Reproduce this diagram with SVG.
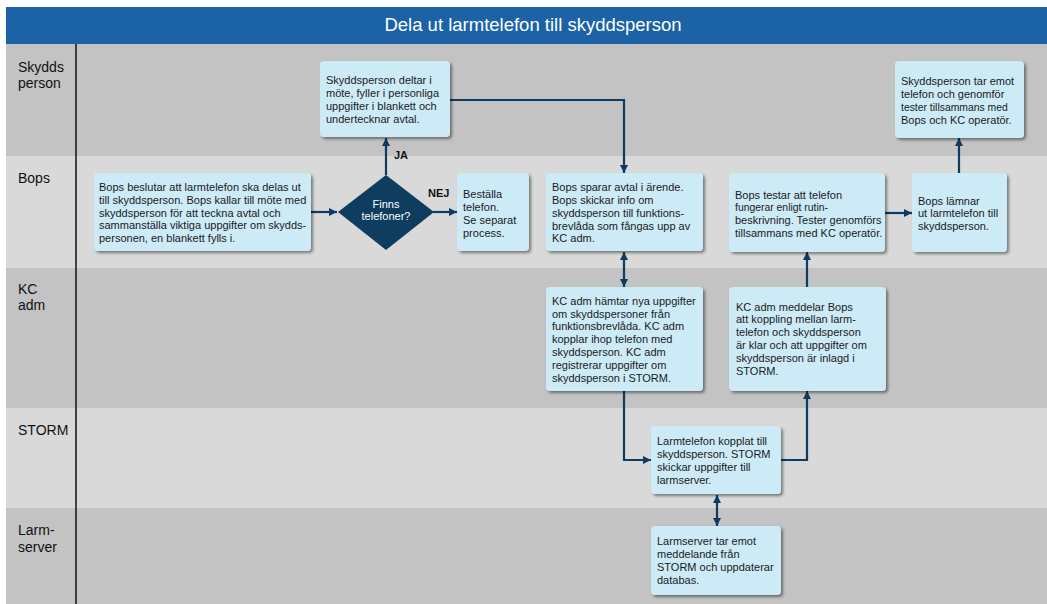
<svg xmlns="http://www.w3.org/2000/svg" width="1047" height="604" viewBox="0 0 1047 604">
<defs>
<style>
.lane-dark{fill:#c3c3c3}
.lane-light{fill:#d9d9d9}
.lbl{font-family:"Liberation Sans",Arial,sans-serif;font-size:14px;fill:#111}
.box{fill:#cdeaf7;filter:url(#sh)}
.t{font-family:"Liberation Sans",Arial,sans-serif;font-size:11px;fill:#1a1a1a}
.ts{font-size:10.4px}
.dia{fill:#0f3d5f}
.dt{font-family:"Liberation Sans",Arial,sans-serif;font-size:11px;fill:#fff;text-anchor:middle}
.ck{font-family:"Liberation Sans",Arial,sans-serif;font-size:11px;font-weight:bold;fill:#111}
.c{fill:none;stroke:#0d3b61;stroke-width:2.2}
</style>
<filter id="sh" x="-10%" y="-10%" width="130%" height="130%">
<feDropShadow dx="2" dy="2" stdDeviation="1.5" flood-color="#000" flood-opacity="0.45"/>
</filter>
<marker id="ah" viewBox="0 0 10 10" refX="10" refY="5" markerWidth="8" markerHeight="9" markerUnits="userSpaceOnUse" orient="auto-start-reverse">
<path d="M0,0 L10,5 L0,10 z" fill="#0d3b61"/>
</marker>
</defs>
<rect x="0" y="0" width="1047" height="604" fill="#fff"/>
<g id="lanes">
<rect class="lane-dark" x="6" y="44" width="1041" height="112"/>
<rect class="lane-light" x="6" y="156" width="1041" height="112"/>
<rect class="lane-dark" x="6" y="268" width="1041" height="140"/>
<rect class="lane-light" x="6" y="408" width="1041" height="100"/>
<rect class="lane-dark" x="6" y="508" width="1041" height="96"/>
<line x1="76" y1="44" x2="76" y2="604" stroke="#111" stroke-width="1.5"/>
<text class="lbl" x="18" y="72">Skydds</text>
<text class="lbl" x="18" y="88">person</text>
<text class="lbl" x="18" y="183">Bops</text>
<text class="lbl" x="18" y="294">KC</text>
<text class="lbl" x="18" y="310">adm</text>
<text class="lbl" x="18" y="435">STORM</text>
<text class="lbl" x="18" y="535">Larm-</text>
<text class="lbl" x="18" y="552">server</text>
</g>
<g id="title">
<rect x="6" y="7" width="1041" height="37" fill="#1b62a6"/>
<text x="533" y="31" font-family="Liberation Sans,Arial,sans-serif" font-size="18.5" fill="#fff" text-anchor="middle">Dela ut larmtelefon till skyddsperson</text>
</g>
<g id="connectors">
<path class="c" d="M311,212 H337" marker-end="url(#ah)"/>
<path class="c" d="M386,175 V138" marker-end="url(#ah)"/>
<path class="c" d="M433,212 H457" marker-end="url(#ah)"/>
<path class="c" d="M450,100 H624 V173" marker-end="url(#ah)"/>
<path class="c" d="M624,252 V287" marker-start="url(#ah)" marker-end="url(#ah)"/>
<path class="c" d="M624,391 V460 H651" marker-end="url(#ah)"/>
<path class="c" d="M781,460 H807 V391" marker-end="url(#ah)"/>
<path class="c" d="M717,495 V526" marker-start="url(#ah)" marker-end="url(#ah)"/>
<path class="c" d="M807,287 V252" marker-end="url(#ah)"/>
<path class="c" d="M885,213 H912" marker-end="url(#ah)"/>
<path class="c" d="M959,173 V138" marker-end="url(#ah)"/>
<text class="ck" x="394" y="159">JA</text>
<text class="ck" x="428" y="197">NEJ</text>
</g>
<g id="n1">
<rect class="box" x="320" y="61" width="130" height="76" rx="4"/>
<text class="t" x="326" y="84">Skyddsperson deltar i</text>
<text class="t" x="326" y="97">möte, fyller i personliga</text>
<text class="t" x="326" y="110">uppgifter i blankett och</text>
<text class="t" x="326" y="123">undertecknar avtal.</text>
</g>
<g id="n2">
<rect class="box" x="94" y="173" width="217" height="78" rx="4"/>
<text class="t" x="99" y="191">Bops beslutar att larmtelefon ska delas ut</text>
<text class="t" x="99" y="204">till skyddsperson. Bops kallar till möte med</text>
<text class="t" x="99" y="216.5">skyddsperson för att teckna avtal och</text>
<text class="t" x="99" y="229">sammanställa viktiga uppgifter om skydds-</text>
<text class="t" x="99" y="242">personen, en blankett fylls i.</text>
</g>
<g id="n3">
<polygon class="dia" points="386,175 434,212 386,250 338,212"/>
<text class="dt" x="386" y="208">Finns</text>
<text class="dt" x="386" y="220">telefoner?</text>
</g>
<g id="n4">
<rect class="box" x="457" y="173" width="72" height="78" rx="4"/>
<text class="t" x="463" y="198">Beställa</text>
<text class="t" x="463" y="211">telefon.</text>
<text class="t" x="463" y="224">Se separat</text>
<text class="t" x="463" y="237">process.</text>
</g>
<g id="n5">
<rect class="box" x="546" y="173" width="157" height="78" rx="4"/>
<text class="t" x="552" y="191">Bops sparar avtal i ärende.</text>
<text class="t" x="552" y="204">Bops skickar info om</text>
<text class="t" x="552" y="217">skyddsperson till funktions-</text>
<text class="t" x="552" y="230">brevlåda som fångas upp av</text>
<text class="t" x="552" y="242">KC adm.</text>
</g>
<g id="n6">
<rect class="box" x="546" y="287" width="157" height="104" rx="4"/>
<text class="t" x="552" y="305">KC adm hämtar nya uppgifter</text>
<text class="t" x="552" y="318">om skyddspersoner från</text>
<text class="t" x="552" y="330">funktionsbrevlåda. KC adm</text>
<text class="t" x="552" y="343">kopplar ihop telefon med</text>
<text class="t" x="552" y="356">skyddsperson. KC adm</text>
<text class="t" x="552" y="369">registrerar uppgifter om</text>
<text class="t" x="552" y="382">skyddsperson i STORM.</text>
</g>
<g id="n7">
<rect class="box" x="651" y="426" width="130" height="68" rx="4"/>
<text class="t" x="657" y="445">Larmtelefon kopplat till</text>
<text class="t" x="657" y="458">skyddsperson. STORM</text>
<text class="t" x="657" y="471">skickar uppgifter till</text>
<text class="t" x="657" y="484">larmserver.</text>
</g>
<g id="n8">
<rect class="box" x="729" y="287" width="157" height="104" rx="4"/>
<text class="t" x="736" y="311">KC adm meddelar Bops</text>
<text class="t" x="736" y="323">att koppling mellan larm-</text>
<text class="t" x="736" y="336">telefon och skyddsperson</text>
<text class="t" x="736" y="349">är klar och att uppgifter om</text>
<text class="t" x="736" y="362">skyddsperson är inlagd i</text>
<text class="t" x="736" y="375">STORM.</text>
</g>
<g id="n9">
<rect class="box" x="651" y="526" width="130" height="69" rx="4"/>
<text class="t" x="657" y="545">Larmserver tar emot</text>
<text class="t" x="657" y="558">meddelande från</text>
<text class="t" x="657" y="571">STORM och uppdaterar</text>
<text class="t" x="657" y="584">databas.</text>
</g>
<g id="n10">
<rect class="box" x="729" y="173" width="156" height="79" rx="4"/>
<text class="t" x="735" y="199">Bops testar att telefon</text>
<text class="t ts" x="735" y="211">fungerar enligt rutin-</text>
<text class="t" x="735" y="224">beskrivning.  Tester genomförs</text>
<text class="t" x="735" y="237">tillsammans med KC operatör.</text>
</g>
<g id="n11">
<rect class="box" x="912" y="173" width="95" height="79" rx="4"/>
<text class="t" x="918" y="205">Bops lämnar</text>
<text class="t" x="918" y="217">ut larmtelefon till</text>
<text class="t" x="918" y="230">skyddsperson.</text>
</g>
<g id="n12">
<rect class="box" x="895" y="61" width="129" height="77" rx="4"/>
<text class="t" x="901" y="85">Skyddsperson tar emot</text>
<text class="t" x="901" y="98">telefon och genomför</text>
<text class="t ts" x="901" y="111">tester tillsammans med</text>
<text class="t" x="901" y="124">Bops och KC operatör.</text>
</g>
</svg>
